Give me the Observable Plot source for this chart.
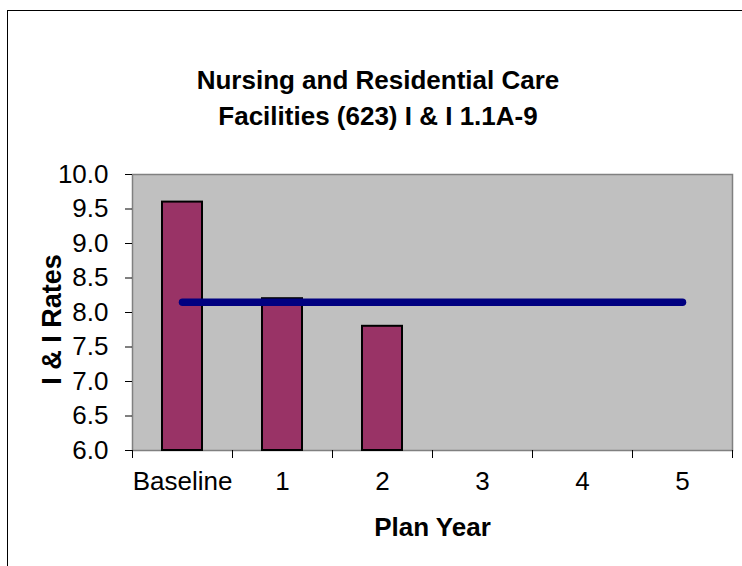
<!DOCTYPE html>
<html>
<head>
<meta charset="utf-8">
<script src="https://cdn.jsdelivr.net/npm/d3@7"></script>
<script src="https://cdn.jsdelivr.net/npm/@observablehq/plot@0.6"></script>
<style>
  html, body { margin: 0; padding: 0; background: #fff; overflow: hidden; }
  #wrap { position: relative; width: 742px; height: 566px; }
  #border { position: absolute; left: 7px; top: 10px; width: 800px; height: 700px;
            border-left: 1px solid #000; border-top: 1px solid #000; }
  #title { position: absolute; left: 7px; top: 62px; width: 742px; text-align: center;
           font-family: "Liberation Sans", Arial, sans-serif; font-weight: bold;
           font-size: 26px; line-height: 36px; color: #000; }
  #chart { position: absolute; left: 0; top: 0; }
</style>
</head>
<body>
<div id="wrap">
  <div id="border"></div>
  <div id="chart"></div>
  <div id="title"></div>
</div>
<script>
const titleLines = ["Nursing and Residential Care", "Facilities (623) I & I 1.1A-9"];
const categories = ["Baseline", "1", "2", "3", "4", "5"];
const rates = [9.6, 8.2, 7.8];
const target = [8.15, 8.15, 8.15, 8.15, 8.15, 8.15];
const yTicks = [6.0, 6.5, 7.0, 7.5, 8.0, 8.5, 9.0, 9.5, 10.0];
const yTitle = "I & I Rates";
const xTitle = "Plan Year";

document.getElementById("title").innerHTML = titleLines.join("<br>");

const yMin = yTicks[0], yMax = yTicks[yTicks.length - 1];
const idx = categories.map((_, i) => i);
const bounds = d3.range(-0.5, categories.length, 1);
const halfBar = 0.2;
const barData = rates.map((v, i) => ({i, v}));
const font = "'Liberation Sans', Arial, sans-serif";

const chart = Plot.plot({
  width: 742,
  height: 566,
  marginLeft: 132,
  marginRight: 10,
  marginTop: 174,
  marginBottom: 116,
  style: {fontFamily: font, fontSize: "26px", color: "#000", background: "transparent", overflow: "visible"},
  x: {type: "linear", domain: [-0.5, categories.length - 0.5]},
  y: {domain: [yMin, yMax]},
  marks: [
    Plot.frame({fill: "#C0C0C0", stroke: "#808080", strokeWidth: 1.5}),
    Plot.rect(barData, {
      x1: d => d.i - halfBar, x2: d => d.i + halfBar,
      y1: yMin, y2: d => d.v,
      fill: "#993366", stroke: "#000", strokeWidth: 2
    }),
    Plot.lineY(target, {
      x: (d, i) => idx[i], y: d => d,
      stroke: "#000080", strokeWidth: 7.5, strokeLinecap: "round"
    }),
    Plot.axisX({ticks: bounds, tickSize: 8, tickFormat: () => "", label: null, stroke: "#000"}),
    Plot.axisX({ticks: idx, tickSize: 0, tickPadding: 21, tickFormat: i => categories[i], label: null, fontSize: 26}),
    Plot.axisY({ticks: yTicks, tickSize: 7, tickPadding: 17, tickFormat: d3.format(".1f"), label: null, fontSize: 26, stroke: "#000"}),
    Plot.text([yTitle], {frameAnchor: "left", textAnchor: "middle", dx: -80, dy: 7, rotate: -90, fontWeight: "bold", fontSize: 27, text: d => d}),
    Plot.text([xTitle], {frameAnchor: "bottom", textAnchor: "middle", lineAnchor: "middle", dy: 77, fontWeight: "bold", fontSize: 26, text: d => d})
  ]
});
document.getElementById("chart").appendChild(chart);
</script>
</body>
</html>
